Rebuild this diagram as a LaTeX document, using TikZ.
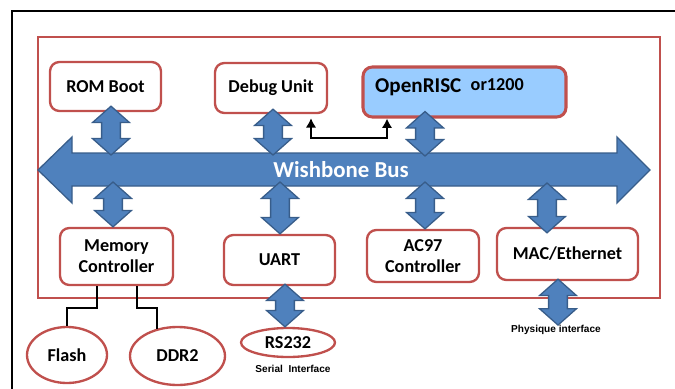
\documentclass[tikz,border=0pt]{standalone}
\usepackage{fontspec}
\setmainfont{Carlito}
\newfontfamily\arialfont{Liberation Sans}
\usetikzlibrary{arrows.meta,shapes.geometric,calc}

\definecolor{boxred}{HTML}{C0504D}
\definecolor{busblue}{HTML}{4F81BD}
\definecolor{busedge}{HTML}{385D8A}
\definecolor{cpublue}{HTML}{99CCFF}

\tikzset{
  block/.style={draw=boxred, line width=2pt, rounded corners=8pt, fill=white, inner sep=0pt, align=center, font=\bfseries\fontsize{15.5}{18}\selectfont},
  disc/.style={ellipse, draw=boxred, line width=2pt, fill=white, inner sep=0pt, font=\bfseries\fontsize{15.5}{18}\selectfont},
  busarrow/.style={fill=busblue, draw=busedge, line width=1.1pt, line join=miter},
  wire/.style={draw=black, line width=2pt},
  note/.style={inner sep=0pt, font=\arialfont\bfseries\fontsize{8.6}{10}\selectfont},
}

% vertical double arrow between two points (first one on top)
\newcommand{\dbllink}[2]{%
  \path[busarrow] let \p1=(#1), \p2=(#2) in
    (\x1,\y1) -- (\x1+15.8pt,\y1-14pt) -- (\x1+8pt,\y1-14pt)
    -- (\x1+8pt,\y2+14pt) -- (\x1+15.8pt,\y2+14pt) -- (\x1,\y2)
    -- (\x1-15.8pt,\y2+14pt) -- (\x1-8pt,\y2+14pt)
    -- (\x1-8pt,\y1-14pt) -- (\x1-15.8pt,\y1-14pt) -- cycle;}

\begin{document}
\begin{tikzpicture}[x=0.03cm, y=-0.03cm]
\useasboundingbox (0,0) rectangle (675,388);
% frames
\draw[line width=1.6pt] (12,392) -- (12,11) -- (679,11);
\draw[draw=boxred, line width=1.8pt] (38,37) rectangle (660,298);

% wishbone bus
\path[busarrow] (38,170) -- (72,137) -- (72,153) -- (617,153) -- (617,137) -- (650,170)
  -- (617,203) -- (617,186) -- (72,186) -- (72,203) -- cycle;
\node[text=white, font=\bfseries\fontsize{19.5}{22}\selectfont] (bus) at (341,170) {Wishbone Bus};
\coordinate (bustop) at (0,153);
\coordinate (busbot) at (0,186);

% upper blocks
\node[block, minimum width=3.33cm, minimum height=1.47cm] (rom) at (105.5,86.5) {ROM Boot};
\node[block, minimum width=3.36cm, minimum height=1.5cm] (debug) at (271,88) {Debug Unit};
\node[block, fill=cpublue, line width=2.6pt, minimum width=6.09cm, minimum height=1.5cm] (cpu) at (464.5,92) {};
\node[font=\bfseries\fontsize{18}{20}\selectfont, anchor=base west, inner sep=0pt] (cpulbl) at (375,92)
  {OpenRISC\hspace{8pt}\raisebox{1.5pt}{\fontsize{15.5}{18}\selectfont or1200}};

% lower blocks
\node[block, minimum width=3.39cm, minimum height=1.71cm] (mem) at (116.5,256.5) {Memory\\Controller};
\node[block, minimum width=3.33cm, minimum height=1.5cm] (uart) at (279.5,260) {UART};
\node[block, minimum width=3.36cm, minimum height=1.56cm] (ac97) at (423,256) {AC97\\Controller};
\node[block, minimum width=4.23cm, minimum height=1.56cm] (mac) at (567.5,254) {MAC/Ethernet};

% outside the chip
\node[disc, minimum width=2.4cm, minimum height=1.68cm] (flash) at (67,355) {Flash};
\node[disc, minimum width=2.85cm, minimum height=1.74cm] (ddr) at (177.5,356) {DDR2};
\node[disc, minimum width=2.82cm, minimum height=0.87cm] (rs) at (288,342.5) {RS232};
\node[note] (serial) at (293,369) {Serial\ \ Interface};
\node[note] (phys) at (556,330) {Physique interface};

% bus links
\dbllink{$(rom.south -| 111,0)+(0,-6)$}{$(bustop -| 111,0)+(0,2)$}
\dbllink{$(debug.south -| 273,0)+(0,-5)$}{$(bustop -| 273,0)+(0,2)$}
\dbllink{$(cpu.south -| 425,0)+(0,-7)$}{$(bustop -| 425,0)+(0,3)$}
\dbllink{$(busbot -| 113,0)+(0,-4)$}{mem.north -| 113,0}
\dbllink{$(busbot -| 280,0)+(0,-4)$}{uart.north -| 280,0}
\dbllink{$(busbot -| 425,0)+(0,-4)$}{ac97.north -| 425,0}
\dbllink{$(busbot -| 547,0)+(0,-3)$}{$(mac.north -| 547,0)+(0,6)$}
\dbllink{$(uart.south -| 285,0)+(0,-2)$}{rs.north -| 285,0}
\dbllink{$(mac.south -| 558,0)+(0,-2)$}{phys.north -| 558,0}

% wires
\draw[wire] (mem.south -| 97,0) -- ++(0,22) -| (flash.north);
\draw[wire] (mem.south -| 137,0) -- ++(0,22) -| (ddr.127);
\draw[wire, {Latex[length=8pt,width=9pt]}-{Latex[length=8pt,width=9pt]}] ($(debug.south -| 311,0)+(0,4)$) -- (311,138) -| (cpu.south -| 387,0);
\end{tikzpicture}
\end{document}
